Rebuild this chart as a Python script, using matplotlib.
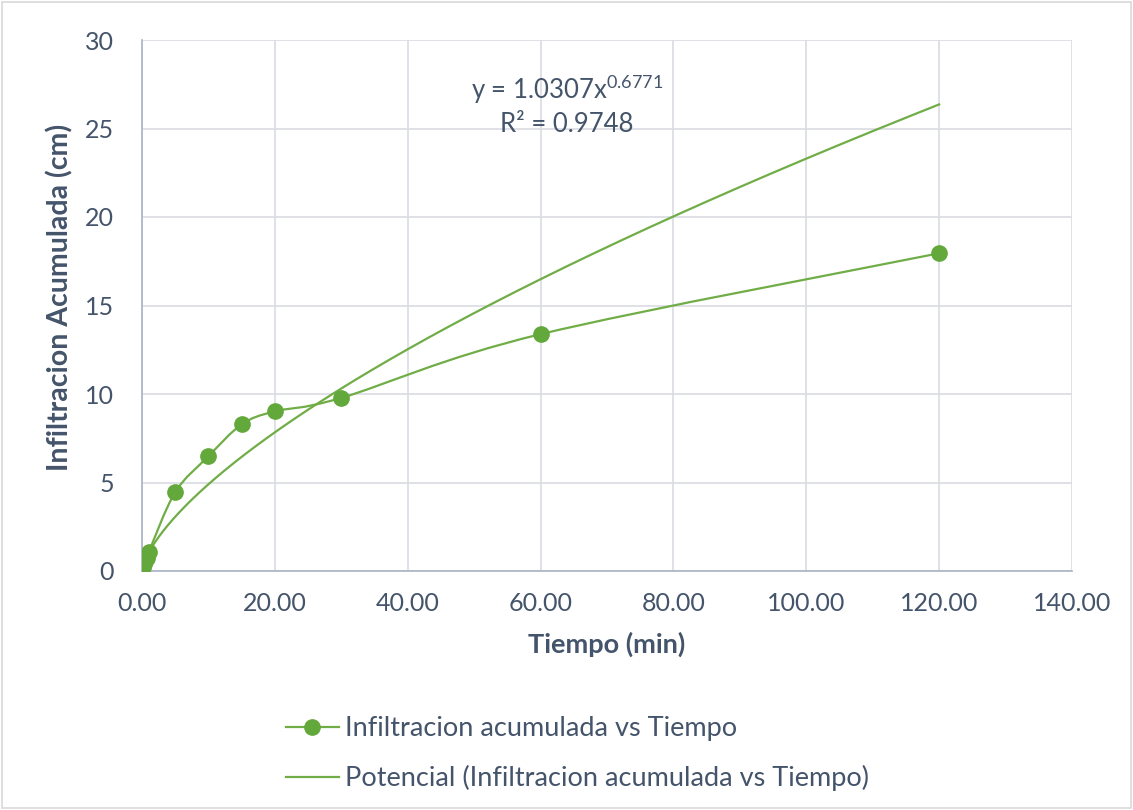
import numpy as np
import matplotlib
matplotlib.use("Agg")
import matplotlib.pyplot as plt
from matplotlib.path import Path
from matplotlib.patches import PathPatch, Rectangle
from matplotlib.lines import Line2D
from matplotlib.ticker import FormatStrFormatter

plt.rcParams['font.family'] = ['Lato', 'DejaVu Sans']
plt.rcParams['mathtext.default'] = 'regular'

# Data
tiempo = [0.17, 0.33, 0.5, 0.75, 1.0, 5.0, 10.0, 15.0, 20.0, 30.0, 60.0, 120.0]
infiltracion = [0.25, 0.4, 0.55, 0.75, 1.05, 4.45, 6.48, 8.28, 9.02, 9.78, 13.38, 17.95]
coef_a = 1.0307
coef_b = 0.6771
r2 = 0.9748
x_ticks = [0, 20, 40, 60, 80, 100, 120, 140]
y_ticks = [0, 5, 10, 15, 20, 25, 30]

green = '#70AD47'
marker_green = '#62A83A'
text_col = '#44546A'
grid_col = '#D9DCE3'
axis_col = '#A9B3C6'

fig = plt.figure(figsize=(11.33, 8.10), dpi=100)
ax = fig.add_axes([142/1133, 1 - 571/810, (1072-142)/1133, (571-40)/810])

# Smoothed data line (Catmull-Rom -> cubic Bezier)
P = np.column_stack([tiempo, infiltracion])
verts = [tuple(P[0])]
codes = [Path.MOVETO]
n = len(P)
for i in range(n - 1):
    p0 = P[i - 1] if i > 0 else P[i]
    p1 = P[i]
    p2 = P[i + 1]
    p3 = P[i + 2] if i + 2 < n else P[i + 1]
    c1 = p1 + (p2 - p0) / 6.0
    c2 = p2 - (p3 - p1) / 6.0
    verts += [tuple(c1), tuple(c2), tuple(p2)]
    codes += [Path.CURVE4] * 3
ax.add_patch(PathPatch(Path(verts, codes), facecolor='none', edgecolor=green,
                       lw=1.6, zorder=3))
ax.plot(tiempo, infiltracion, linestyle='none', marker='o', markersize=11,
        markerfacecolor=marker_green, markeredgecolor=marker_green, zorder=4)

# Power trendline
xt = np.linspace(min(tiempo), max(tiempo), 400)
ax.plot(xt, coef_a * xt ** coef_b, color=green, lw=1.6, zorder=3)

ax.set_xlim(0, 140)
ax.set_ylim(0, 30)
ax.set_xticks(x_ticks)
ax.set_yticks(y_ticks)
ax.xaxis.set_major_formatter(FormatStrFormatter('%.2f'))
ax.grid(True, color=grid_col, lw=1.2, zorder=0)
ax.set_axisbelow(True)
for s in ['top', 'right']:
    ax.spines[s].set_visible(False)
for s in ['left', 'bottom']:
    ax.spines[s].set_color(axis_col)
    ax.spines[s].set_linewidth(1.2)
ax.tick_params(length=0, labelsize=18, colors=text_col)
ax.tick_params(axis='y', pad=20)
ax.tick_params(axis='x', pad=15)
ax.set_xlabel('Tiempo (min)', fontsize=19.5, fontweight='bold', color=text_col, labelpad=12)
ax.set_ylabel('Infiltracion Acumulada (cm)', fontsize=20.5, fontweight='bold', color=text_col)
ax.yaxis.set_label_coords((73 - 142) / 930, (571 - 297) / 531)

ax.text(567/1133, 1 - 90/810, 'y = %.4fx$^{%.4f}$' % (coef_a, coef_b),
        transform=fig.transFigure, ha='center', va='center', fontsize=18.5, color=text_col)
ax.text(567/1133, 1 - 125/810, 'R² = %.4f' % r2,
        transform=fig.transFigure, ha='center', va='center', fontsize=18.5, color=text_col)

handles = [Line2D([], [], color=green, lw=1.6, marker='o', markersize=11,
                  markerfacecolor=marker_green, markeredgecolor=marker_green),
           Line2D([], [], color=green, lw=1.6)]
labels = ['Infiltracion acumulada vs Tiempo',
          'Potencial (Infiltracion acumulada vs Tiempo)']
fig.legend(handles, labels, loc='upper left', bbox_to_anchor=(286/1133, 1 - 716/810),
           frameon=False, fontsize=19.5, labelcolor=text_col, labelspacing=0.9,
           handlelength=1.95, handletextpad=0.22, borderpad=0, borderaxespad=0)

fig.add_artist(Rectangle((0.002, 0.002), 0.996, 0.996, transform=fig.transFigure,
                         fill=False, edgecolor='#D9D9D9', lw=1.2))

fig.savefig('out.png', dpi=100)
